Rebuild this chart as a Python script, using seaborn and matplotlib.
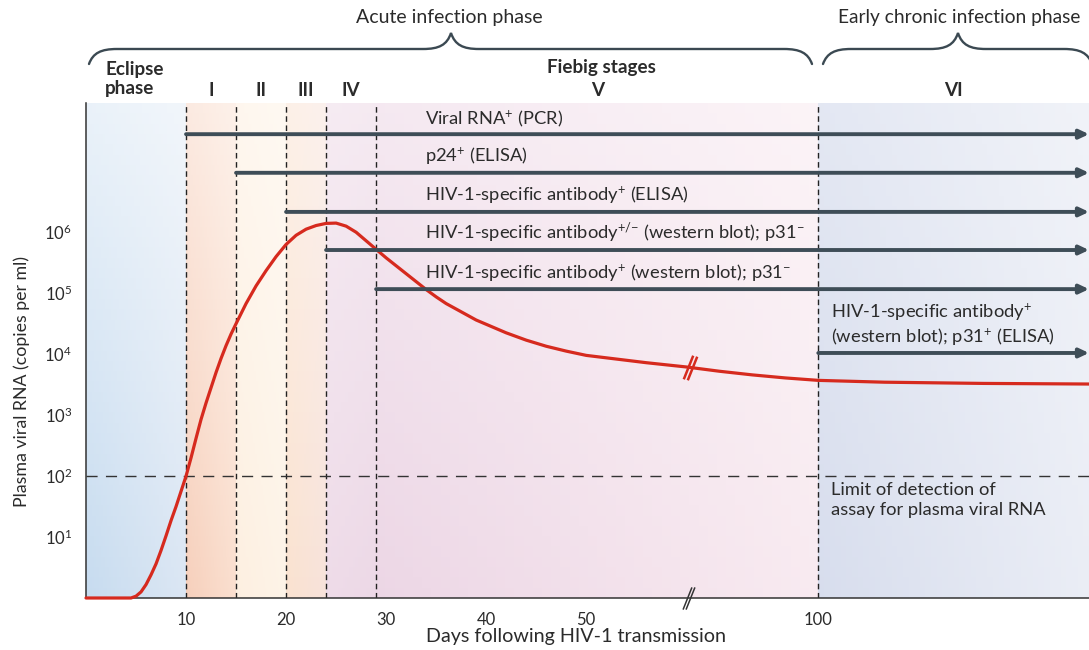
import numpy as np
import matplotlib
matplotlib.use("Agg")
import matplotlib.pyplot as plt
import seaborn as sns
from matplotlib.colors import to_rgb
from matplotlib.path import Path
from matplotlib.patches import PathPatch
from matplotlib.ticker import NullLocator

# ---------------------------------------------------------------- data
# Plasma viral load after HIV-1 transmission: day and log10(copies per ml)
days = [0, 4.5, 5, 5.5, 6, 6.5, 7, 7.5, 8, 8.5, 9, 9.5, 10, 10.5, 11, 11.5,
        12, 12.5, 13, 13.5, 14, 14.5, 15, 16, 17, 18, 19, 20, 21, 22, 23, 24,
        25, 26, 27, 28, 29, 30, 31, 32, 33, 34, 35, 36, 37, 38, 39, 40, 42,
        44, 46, 48, 50, 53, 56, 60, 70, 80, 90, 100, 120, 150, 182]
log_copies = [0, 0, 0.03, 0.1, 0.22, 0.38, 0.56, 0.78, 1.02, 1.27, 1.5, 1.75,
              2.0, 2.3, 2.62, 2.93, 3.2, 3.45, 3.7, 3.93, 4.14, 4.33, 4.5,
              4.83, 5.12, 5.37, 5.6, 5.8, 5.95, 6.05, 6.11, 6.145, 6.15, 6.1,
              6.0, 5.86, 5.72, 5.58, 5.45, 5.32, 5.19, 5.06, 4.94, 4.83, 4.74,
              4.65, 4.56, 4.49, 4.35, 4.23, 4.13, 4.05, 3.98, 3.92, 3.86, 3.79,
              3.72, 3.66, 3.61, 3.57, 3.54, 3.52, 3.51]
copies = [10 ** v for v in log_copies]

# Fiebig stage boundaries (days)
stage_edges = [0, 10, 15, 20, 24, 29, 100, 182]
stage_names = ["", "I", "II", "III", "IV", "V", "VI"]

# Diagnostic tests and the day from which each becomes positive
test_labels = [
    "Viral RNA$^{+}$ (PCR)",
    "p24$^{+}$ (ELISA)",
    "HIV-1-specific antibody$^{+}$ (ELISA)",
    "HIV-1-specific antibody$^{{+}/{-}}$ (western blot); p31$^{-}$",
    "HIV-1-specific antibody$^{+}$ (western blot); p31$^{-}$",
    "HIV-1-specific antibody$^{+}$\n(western blot); p31$^{+}$ (ELISA)",
]
test_start = [10, 15, 20, 24, 29, 100]
test_row = [0.937, 0.859, 0.780, 0.703, 0.624, 0.495]   # rows, axes fraction

detection_limit = 100
x_ticks = [0, 10, 20, 30, 40, 50, 100]
x_tick_labels = ["", "10", "20", "30", "40", "50", "100"]
y_ticks = [1, 10, 100, 1e3, 1e4, 1e5, 1e6]
y_tick_labels = ["", "$10^{1}$", "$10^{2}$", "$10^{3}$", "$10^{4}$",
                 "$10^{5}$", "$10^{6}$"]

# ---------------------------------------------------------------- style
sns.set_theme(style="white")
plt.rcParams["font.family"] = ["Lato", "DejaVu Sans"]
plt.rcParams["mathtext.fontset"] = "custom"
plt.rcParams["mathtext.rm"] = "Lato"
plt.rcParams["mathtext.it"] = "Lato:italic"
plt.rcParams["mathtext.bf"] = "Lato:bold"
plt.rcParams["mathtext.default"] = "regular"

TXT = "#2b2b2b"
ARROW = "#3e4d57"
RED = "#d62a1e"
FS = 13.2
FS_BOLD = 13.6

# broken time axis: days after 60 are compressed
K = 0.33
BREAK = 60.0


def fwd(d):
    d = np.asarray(d, dtype=float)
    return np.where(d <= BREAK, d, BREAK + (d - BREAK) * K)


def inv(p):
    p = np.asarray(p, dtype=float)
    return np.where(p <= BREAK, p, BREAK + (p - BREAK) / K)


XMAX = 182
YTOP = 10 ** 8.12

fig = plt.figure(figsize=(10.89, 6.5), dpi=100)
ax = fig.add_axes([86 / 1089, 52 / 650, 1003 / 1089, 495 / 650])
ax.set_xscale("function", functions=(fwd, inv))
ax.set_yscale("log")
ax.set_xlim(0, XMAX)
ax.set_ylim(1, YTOP)

# ---------------------------------------------------------------- shading
shades = [
    ("#c6dbef", "#dbe6f3", 0.62),   # eclipse
    ("#f6cfbb", "#fadfcf", 0.55),   # I
    ("#fdefe0", "#fdf3e7", 0.45),   # II
    ("#fae2cf", "#f7e2da", 0.50),   # III
    ("#eedbe8", "#ecd8e6", 0.45),   # IV
    ("#ecd6e5", "#f8eaf0", 0.45),   # V
    ("#d7dded", "#eaedf5", 0.30),   # VI
]


def shade(d0, d1, c_left, c_right, fade, n=48):
    xs = inv(np.linspace(fwd(d0), fwd(d1), n + 1))
    ys = np.logspace(0, np.log10(YTOP), n + 1)
    f = (np.arange(n) + 0.5) / n
    cl, cr = np.array(to_rgb(c_left)), np.array(to_rgb(c_right))
    base = cl[None, None, :] * (1 - f[None, :, None]) + cr[None, None, :] * f[None, :, None]
    t = fade * f[:, None, None]
    col = base * (1 - t) + t
    ax.pcolormesh(xs, ys, col, shading="flat", edgecolors="none",
                  antialiased=False, zorder=0, rasterized=True)


for (a, b), (cl, cr, fd) in zip(zip(stage_edges[:-1], stage_edges[1:]), shades):
    shade(a, b, cl, cr, fd)

# stage boundaries
for d in stage_edges[1:-1]:
    ax.axvline(d, color="#222222", lw=1.0, ls=(0, (4, 2.6)), zorder=1)

# detection limit
ax.axhline(detection_limit, color="#333333", lw=1.0, ls=(0, (8, 6)), zorder=1)
ax.text(104, 10 ** 1.9, "Limit of detection of\nassay for plasma viral RNA",
        ha="left", va="top", fontsize=FS, color=TXT, linespacing=1.3, zorder=5)

# viral load curve
sns.lineplot(x=days, y=copies, ax=ax, color=RED, lw=2.3, zorder=4,
             clip_on=False, estimator=None, sort=False)

# test positivity arrows
xt = ax.get_xaxis_transform()
for start, row, lab in zip(test_start, test_row, test_labels):
    ax.annotate("", xy=(XMAX, row), xytext=(start, row), xycoords=xt,
                textcoords=xt, annotation_clip=False, zorder=5,
                arrowprops=dict(arrowstyle="-|>,head_length=0.55,head_width=0.26",
                                lw=2.8, color=ARROW, shrinkA=0, shrinkB=0,
                                mutation_scale=10))
    lx = 33.9 if start < 100 else 104
    ax.text(lx, row + 0.011, lab, transform=xt, ha="left", va="bottom",
            fontsize=FS, color=TXT, linespacing=1.2, zorder=6)

# axis-break marks
slash = Path([(-0.2, -0.5), (0.2, 0.5)], [Path.MOVETO, Path.LINETO])
ax.plot([60.2, 61.2], [0, 0], transform=xt, ls="none", marker=slash, ms=16,
        mfc="none", mec="#333333", mew=1.1, clip_on=False, zorder=6)
brk_days = np.array([60.4, 61.6])
brk_vals = 10 ** np.interp(brk_days, days, log_copies)
ax.plot(brk_days, brk_vals, ls="none", marker=slash, ms=17, mfc="none",
        mec=RED, mew=1.8, clip_on=False, zorder=6)

# stage headers
for (a, b), name in zip(zip(stage_edges[:-1], stage_edges[1:]), stage_names):
    if not name:
        continue
    c = float(inv((fwd(a) + fwd(b)) / 2))
    ax.text(c, 1.026, name, transform=xt, ha="center", va="center",
            fontsize=FS_BOLD, fontweight="bold", color=TXT, clip_on=False)
c5 = float(inv((fwd(29) + fwd(100)) / 2))
ax.text(c5 + 0.4, 1.071, "Fiebig stages", transform=xt, ha="center",
        va="center", fontsize=FS_BOLD, fontweight="bold", color=TXT,
        clip_on=False)
ax.text(1.9, 1.049, "Eclipse\nphase", transform=xt, ha="left", va="center",
        fontsize=FS_BOLD, fontweight="bold", color=TXT, linespacing=1.15,
        clip_on=False)

# axes styling
ax.set_xticks(x_ticks)
ax.set_xticklabels(x_tick_labels)
ax.set_yticks(y_ticks)
ax.set_yticklabels(y_tick_labels)
ax.yaxis.set_minor_locator(NullLocator())
ax.xaxis.set_minor_locator(NullLocator())
ax.tick_params(axis="both", direction="out", length=8, width=1.1,
               color="#333333", labelsize=12, labelcolor=TXT, pad=2)
for s in ("top", "right"):
    ax.spines[s].set_visible(False)
for s in ("left", "bottom"):
    ax.spines[s].set_color("#333333")
    ax.spines[s].set_linewidth(1.1)
ax.grid(False)
ax.set_xlabel("Days following HIV-1 transmission", fontsize=14.2, color=TXT)
ax.set_ylabel("Plasma viral RNA (copies per ml)", fontsize=12.8, color=TXT)
ax.xaxis.set_label_coords(0.489, -0.061)
ax.yaxis.set_label_coords(-0.056, 0.438)

# ---------------------------------------------------------------- braces
ov = fig.add_axes([0, 0, 1, 1], zorder=10)
ov.set_xlim(0, 1089)
ov.set_ylim(650, 0)
ov.axis("off")
ov.patch.set_alpha(0)


def brace(x0, x1, xt_, yb=49, ye=64, ytip=33, r=28):
    verts = [(x0, ye),
             (x0 + 4, yb + 4), (x0 + 12, yb), (x0 + r, yb),
             (xt_ - r, yb),
             (xt_ - 12, yb), (xt_ - 4, yb - 4), (xt_, ytip),
             (xt_ + 4, yb - 4), (xt_ + 12, yb), (xt_ + r, yb),
             (x1 - r, yb),
             (x1 - 12, yb), (x1 - 4, yb + 4), (x1, ye)]
    codes = ([Path.MOVETO] + [Path.CURVE4] * 3 + [Path.LINETO] + [Path.CURVE4] * 6
             + [Path.LINETO] + [Path.CURVE4] * 3)
    ov.add_patch(PathPatch(Path(verts, codes), fill=False, lw=1.7,
                           edgecolor="#3b4952", capstyle="round"))


brace(89, 812, 451)
brace(823, 1092, 958)
ov.text(449, 18, "Acute infection phase", ha="center", va="center",
        fontsize=14, color=TXT)
ov.text(959, 18, "Early chronic infection phase", ha="center", va="center",
        fontsize=13.8, color=TXT)

fig.savefig("out.png", dpi=100)
